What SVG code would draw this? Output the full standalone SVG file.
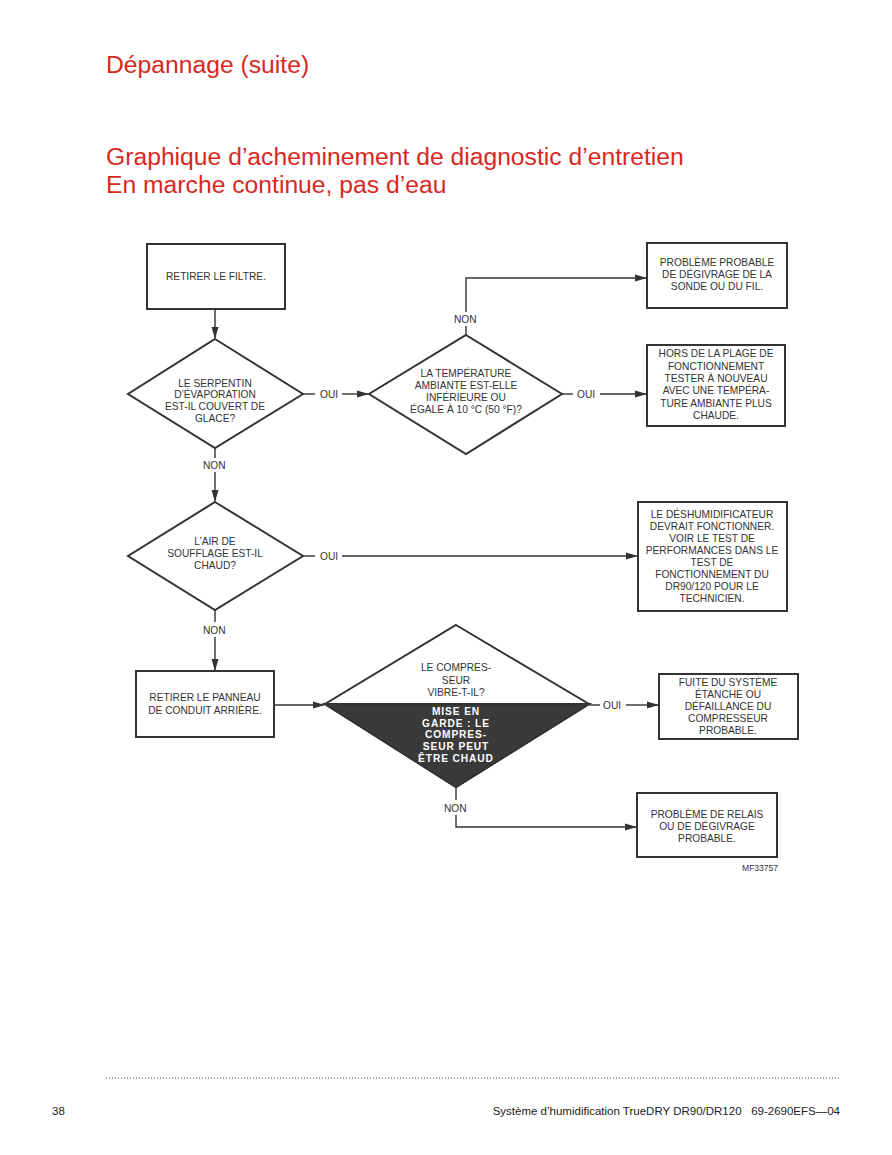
<svg xmlns="http://www.w3.org/2000/svg" width="892" height="1155" viewBox="0 0 892 1155">
<defs>
<marker id="ah" markerWidth="12" markerHeight="8" refX="11" refY="4" orient="auto" markerUnits="userSpaceOnUse">
<path d="M0,0.5 L12,4 L0,7.5 Z" fill="#333"/>
</marker>
<style>
.t{font-family:"Liberation Sans",Arial,sans-serif;font-size:10.2px;fill:#333;text-anchor:middle}
.lb{font-family:"Liberation Sans",Arial,sans-serif;font-size:10.2px;fill:#333}
.w{font-family:"Liberation Sans",Arial,sans-serif;font-size:10.2px;fill:#fff;font-weight:bold;text-anchor:middle;letter-spacing:0.9px}
.box{fill:#fff;stroke:#333;stroke-width:2}
.dia{stroke:#333;stroke-width:2;stroke-linejoin:miter}
.c{fill:none;stroke:#333;stroke-width:1.4}
.h{font-family:"Liberation Sans",Arial,sans-serif;font-size:24.7px;fill:#d8281d}
.f{font-family:"Liberation Sans",Arial,sans-serif;font-size:11.5px;fill:#222}
</style>
</defs>
<rect width="892" height="1155" fill="#fff"/>
<text class="h" x="106" y="73">Dépannage (suite)</text>
<text class="h" x="106" y="165">Graphique d’acheminement de diagnostic d’entretien</text>
<text class="h" x="106" y="193">En marche continue, pas d’eau</text>

<g id="connectors">
<line class="c" x1="215" y1="310" x2="215" y2="338" marker-end="url(#ah)"/>
<line class="c" x1="303" y1="394" x2="315" y2="394"/>
<line class="c" x1="342" y1="394" x2="368" y2="394" marker-end="url(#ah)"/>
<polyline class="c" points="466,335 466,326"/>
<polyline class="c" points="466,312 466,278 646,278" marker-end="url(#ah)"/>
<line class="c" x1="562" y1="394" x2="573" y2="394"/>
<line class="c" x1="600" y1="394" x2="646" y2="394" marker-end="url(#ah)"/>
<line class="c" x1="215" y1="448" x2="215" y2="458"/>
<line class="c" x1="215" y1="472" x2="215" y2="501" marker-end="url(#ah)"/>
<line class="c" x1="303" y1="556" x2="315" y2="556"/>
<line class="c" x1="342" y1="556" x2="637" y2="556" marker-end="url(#ah)"/>
<line class="c" x1="215" y1="610" x2="215" y2="622"/>
<line class="c" x1="215" y1="637" x2="215" y2="670" marker-end="url(#ah)"/>
<line class="c" x1="274" y1="705" x2="324" y2="705" marker-end="url(#ah)"/>
<line class="c" x1="589" y1="705" x2="600" y2="705"/>
<line class="c" x1="626" y1="705" x2="658" y2="705" marker-end="url(#ah)"/>
<line class="c" x1="456" y1="787" x2="456" y2="800"/>
<polyline class="c" points="456,815 456,827 636,827" marker-end="url(#ah)"/>
<text class="lb" x="320" y="398">OUI</text>
<text class="lb" x="577" y="398">OUI</text>
<text class="lb" x="454" y="323">NON</text>
<text class="lb" x="203" y="469">NON</text>
<text class="lb" x="320" y="560">OUI</text>
<text class="lb" x="203" y="634">NON</text>
<text class="lb" x="603" y="709">OUI</text>
<text class="lb" x="444" y="812">NON</text>
</g>

<g id="n1">
<rect class="box" x="147" y="244" width="138" height="65"/>
<text class="t" x="216" y="280">RETIRER LE FILTRE.</text>
</g>

<g id="n2">
<polygon class="dia" fill="#fff" points="215,339 303,394 215,448 128,394"/>
<text class="t" x="215" y="387">LE SERPENTIN</text>
<text class="t" x="215" y="398">D’ÉVAPORATION</text>
<text class="t" x="215" y="410">EST-IL COUVERT DE</text>
<text class="t" x="215" y="422">GLACE?</text>
</g>

<g id="n3">
<polygon class="dia" fill="#fff" points="466,335 562,394 466,454 369,394"/>
<text class="t" x="466" y="377">LA TEMPÉRATURE</text>
<text class="t" x="466" y="389">AMBIANTE EST-ELLE</text>
<text class="t" x="466" y="401">INFÉRIEURE OU</text>
<text class="t" x="466" y="413">ÉGALE À 10 °C (50 °F)?</text>
</g>

<g id="n4">
<rect class="box" x="647" y="243" width="140" height="65"/>
<text class="t" x="717" y="266">PROBLÈME PROBABLE</text>
<text class="t" x="717" y="278">DE DÉGIVRAGE DE LA</text>
<text class="t" x="717" y="290">SONDE OU DU FIL.</text>
</g>

<g id="n5">
<rect class="box" x="647" y="345" width="138" height="81"/>
<text class="t" x="716" y="357">HORS DE LA PLAGE DE</text>
<text class="t" x="716" y="370">FONCTIONNEMENT</text>
<text class="t" x="716" y="382">TESTER À NOUVEAU</text>
<text class="t" x="716" y="394">AVEC UNE TEMPÉRA-</text>
<text class="t" x="716" y="407">TURE AMBIANTE PLUS</text>
<text class="t" x="716" y="419">CHAUDE.</text>
</g>

<g id="n6">
<polygon class="dia" fill="#fff" points="215,502 303,556 215,610 128,556"/>
<text class="t" x="215" y="545">L’AIR DE</text>
<text class="t" x="215" y="557">SOUFFLAGE EST-IL</text>
<text class="t" x="215" y="569">CHAUD?</text>
</g>

<g id="n7">
<rect class="box" x="638" y="502" width="149" height="109"/>
<text class="t" x="712" y="518">LE DÉSHUMIDIFICATEUR</text>
<text class="t" x="712" y="530">DEVRAIT FONCTIONNER.</text>
<text class="t" x="712" y="542">VOIR LE TEST DE</text>
<text class="t" x="712" y="554">PERFORMANCES DANS LE</text>
<text class="t" x="712" y="566">TEST DE</text>
<text class="t" x="712" y="578">FONCTIONNEMENT DU</text>
<text class="t" x="712" y="590">DR90/120 POUR LE</text>
<text class="t" x="712" y="602">TECHNICIEN.</text>
</g>

<g id="n8">
<rect class="box" x="136" y="671" width="138" height="66"/>
<text class="t" x="205" y="701">RETIRER LE PANNEAU</text>
<text class="t" x="205" y="714">DE CONDUIT ARRIÈRE.</text>
</g>

<g id="n9">
<polygon class="dia" fill="#fff" points="456,625 589,704 456,787 325,704"/>
<polygon points="325,704 589,704 456,787" fill="#3a3a3a" stroke="#333" stroke-width="2" stroke-linejoin="miter"/>
<text class="t" x="456" y="671">LE COMPRES-</text>
<text class="t" x="456" y="684">SEUR</text>
<text class="t" x="456" y="696">VIBRE-T-IL?</text>
<text class="w" x="456" y="715">MISE EN</text>
<text class="w" x="456" y="727">GARDE : LE</text>
<text class="w" x="456" y="738">COMPRES-</text>
<text class="w" x="456" y="750">SEUR PEUT</text>
<text class="w" x="456" y="762">ÊTRE CHAUD</text>
</g>

<g id="n10">
<rect class="box" x="659" y="674" width="139" height="65"/>
<text class="t" x="728" y="686">FUITE DU SYSTÈME</text>
<text class="t" x="728" y="698">ÉTANCHE OU</text>
<text class="t" x="728" y="710">DÉFAILLANCE DU</text>
<text class="t" x="728" y="722">COMPRESSEUR</text>
<text class="t" x="728" y="734">PROBABLE.</text>
</g>

<g id="n11">
<rect class="box" x="637" y="793" width="140" height="64"/>
<text class="t" x="707" y="818">PROBLÈME DE RELAIS</text>
<text class="t" x="707" y="830">OU DE DÉGIVRAGE</text>
<text class="t" x="707" y="842">PROBABLE.</text>
</g>

<text x="778" y="871" font-family="Liberation Sans,Arial,sans-serif" font-size="8.5" fill="#333" text-anchor="end">MF33757</text>

<line x1="106" y1="1078" x2="840" y2="1078" stroke="#555" stroke-width="1" stroke-dasharray="1,2"/>
<text class="f" x="52" y="1115">38</text>
<text class="f" x="840" y="1115" text-anchor="end" xml:space="preserve">Système d’humidification TrueDRY DR90/DR120   69-2690EFS—04</text>
</svg>
